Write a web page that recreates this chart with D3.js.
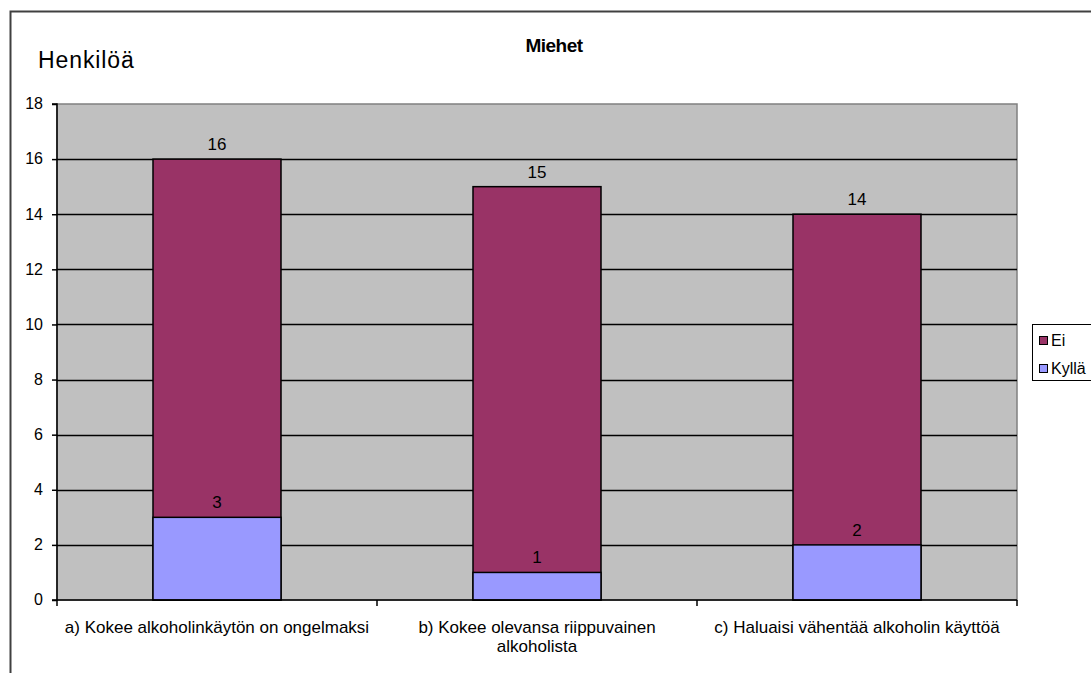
<!DOCTYPE html>
<html><head><meta charset="utf-8">
<script src="https://cdn.jsdelivr.net/npm/d3@7"></script>
<style>body{margin:0;background:#fff}svg{display:block;font-family:Arial,"Liberation Sans",sans-serif}</style>
</head><body><svg id="c" width="1091" height="673"></svg>
<script>
const categories = [["a) Kokee alkoholinkäytön on ongelmaksi"], ["b) Kokee olevansa riippuvainen", "alkoholista"], ["c) Haluaisi vähentää alkoholin käyttöä"]];
const seriesNames = ["Ei", "Kyllä"];
const eiValues = [16, 15, 14];
const kyllaValues = [3, 1, 2];
const yTicks = [0, 2, 4, 6, 8, 10, 12, 14, 16, 18];
const colors = ["#993366", "#9999FF"];

const svg = d3.select("#c");
// outer chart border
svg.append("path").attr("d", "M10.5,700 V11.5 H1100").attr("fill", "none").attr("stroke", "#404040").attr("stroke-width", 2);

const L = 57, R = 1017, T = 104, B = 600;
const x = d3.scaleBand().domain(d3.range(categories.length)).range([L, R]).paddingInner(0).paddingOuter(0);
const y = d3.scaleLinear().domain([0, 18]).range([B, T]);

svg.append("rect").attr("x", L).attr("y", T).attr("width", R - L).attr("height", B - T).attr("fill", "#C0C0C0").attr("stroke", "#808080").attr("stroke-width", 1.5);

// grid lines
svg.append("g").selectAll("line").data(yTicks.filter(d => d > 0 && d < 18)).join("line")
  .attr("x1", L).attr("x2", R).attr("y1", d => Math.round(y(d)) + 0.5).attr("y2", d => Math.round(y(d)) + 0.5)
  .attr("stroke", "#000").attr("stroke-width", 1.5);

const bw = x.bandwidth() * 0.4;
const bx = i => x(i) + (x.bandwidth() - bw) / 2;
[eiValues, kyllaValues].forEach((vals, s) => {
  svg.append("g").selectAll("rect").data(vals).join("rect")
    .attr("x", (d, i) => bx(i)).attr("width", bw)
    .attr("y", d => y(d)).attr("height", d => B - y(d))
    .attr("fill", colors[s]).attr("stroke", "#000").attr("stroke-width", 1.5);
  svg.append("g").selectAll("text").data(vals).join("text")
    .attr("x", (d, i) => x(i) + x.bandwidth() / 2).attr("y", d => y(d) - 9)
    .attr("text-anchor", "middle").attr("font-size", 17).attr("fill", "#000").text(d => d);
});

// y axis
const ya = d3.axisLeft(y).tickValues(yTicks).tickSize(5).tickPadding(9);
const gy = svg.append("g").attr("transform", `translate(${L},0)`).call(ya);
gy.select(".domain").attr("stroke", "#000").attr("stroke-width", 1.5).attr("d", `M-5,${T}H0V${B}H-5`);
gy.selectAll(".tick line").attr("stroke", "#000").attr("stroke-width", 1.5);
gy.selectAll(".tick text").attr("font-size", 16).attr("fill", "#000").attr("dy", "0.3em").attr("font-family", "Arial, Liberation Sans, sans-serif");

// x axis
const gx = svg.append("g");
gx.append("line").attr("x1", L).attr("x2", R).attr("y1", B).attr("y2", B).attr("stroke", "#000").attr("stroke-width", 1.5);
gx.selectAll("line.t").data(d3.range(categories.length + 1)).join("line").attr("class", "t")
  .attr("x1", i => L + i * x.bandwidth()).attr("x2", i => L + i * x.bandwidth())
  .attr("y1", B).attr("y2", B + 6).attr("stroke", "#000").attr("stroke-width", 1.5);
categories.forEach((lines, i) => {
  const t = gx.append("text").attr("text-anchor", "middle").attr("font-size", 17).attr("fill", "#000");
  lines.forEach((ln, k) => t.append("tspan").attr("x", x(i) + x.bandwidth() / 2).attr("y", 633 + k * 19).text(ln));
});

// titles
svg.append("text").attr("x", 554).attr("y", 52).attr("text-anchor", "middle").attr("font-size", 19).attr("font-weight", "bold").attr("letter-spacing", -0.5).text("Miehet");
svg.append("text").attr("x", 38).attr("y", 68).attr("font-size", 23).attr("letter-spacing", 0.9).attr("fill", "#000").text("Henkilöä");

// legend
const lg = svg.append("g");
lg.append("rect").attr("x", 1032.5).attr("y", 324.5).attr("width", 70).attr("height", 56).attr("fill", "#fff").attr("stroke", "#000").attr("stroke-width", 1);
seriesNames.forEach((n, i) => {
  lg.append("rect").attr("x", 1039.5).attr("y", 336.5 + i * 28).attr("width", 8).attr("height", 8).attr("fill", colors[i]).attr("stroke", "#000");
  lg.append("text").attr("x", 1051).attr("y", 346 + i * 28).attr("font-size", 16).attr("fill", "#000").text(n);
});
</script></body></html>
